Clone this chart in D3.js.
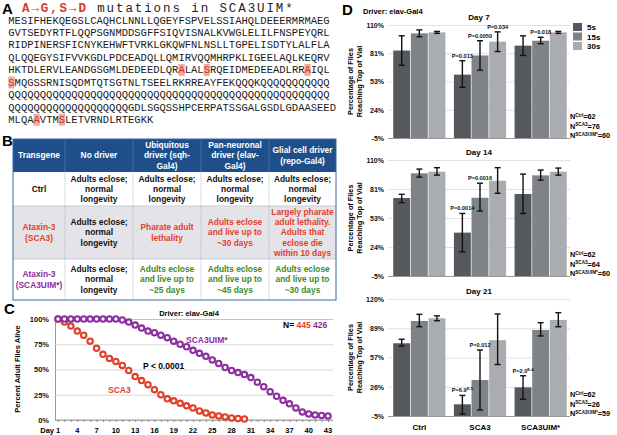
<!DOCTYPE html>
<html><head><meta charset="utf-8">
<script src="https://cdn.jsdelivr.net/npm/d3@7"></script>
<style>body{margin:0;background:#fff}svg{display:block}text{font-family:"Liberation Sans",Arial,sans-serif}</style>
</head><body><svg id="c" width="617" height="435"></svg>
<script>
// ---------- Panel A data ----------
const seqLines = [
 "MESIFHEKQEGSLCAQHCLNNLLQGEYFSPVELSSIAHQLDEEERMRMAEG",
 "GVTSEDYRTFLQQPSGNMDDSGFFSIQVISNALKVWGLELILFNSPEYQRL",
 "RIDPINERSFICNYKEHWFTVRKLGKQWFNLNSLLTGPELISDTYLALFLA",
 "QLQQEGYSIFVVKGDLPDCEADQLLQMIRVQQMHRPKLIGEELAQLKEQRV",
 "HKTDLERVLEANDGSGMLDEDEEDLQRALALSRQEIDMEDEEADLRRAIQL",
 "SMQGSSRNISQDMTQTSGTNLTSEELRKRREAYFEKQQQKQQQQQQQQQQQ",
 "QQQQQQQQQQQQQQQQQQQQQQQQQQQQQQQQQQQQQQQQQQQQQQQQQQQ",
 "QQQQQQQQQQQQQQQQQQQGDLSGQSSHPCERPATSSGALGSDLGDAASEED",
 "MLQAAVTMSLETVRNDLRTEGKK"
];
const highlightLine = [4, 4, 4, 5, 8, 8];
const highlightPos  = [27, 31, 47, 0, 4, 8];

// ---------- Panel B data ----------
const tableHeaders = [["Transgene"],["No driver"],["Ubiquitous","driver (sqh-","Gal4)"],["Pan-neuronal","driver (elav-","Gal4)"],["Glial cell driver","(repo-Gal4)"]];
const rowLabels = [["Ctrl"],["Ataxin-3","(SCA3)"],["Ataxin-3","(SCA3UIM*)"]];
const rowLabelColors = ["#111","#e2402c","#8e2c9f"];
const tableCells = [
 [["Adults eclose;","normal","longevity"],["Adults eclose;","normal","longevity"],["Adults eclose;","normal","longevity"],["Adults eclose;","normal","longevity"]],
 [["Adults eclose;","normal","longevity"],["Pharate adult","lethality"],["Adults eclose","and live up to","~30 days"],["Largely pharate","adult lethality.","Adults that","eclose die","within 10 days"]],
 [["Adults eclose;","normal","longevity"],["Adults eclose","and live up to","~25 days"],["Adults eclose","and live up to","~45 days"],["Adults eclose","and live up to","~30 days"]]
];
const cellColors = [["#111","#111","#111","#111"],["#111","#e2402c","#e2402c","#e2402c"],["#111","#3d8b2b","#3d8b2b","#3d8b2b"]];

// ---------- Panel C data ----------
const sca3Days = [1,2,3,4,5,6,7,8,9,10,11,12,13,14,15,16,17,18,19,20,21,22,23,24,25,26,27,28,29,30];
const sca3Alive = [100,97,93,88,84,78,71,65,61,58,54,49,43,39,35,30,25,21,19,16.5,14,12,9,7,5,4,3,2,1.5,1];
const uimDays = [1,2,3,4,5,6,7,8,9,10,11,12,13,14,15,16,17,18,19,20,21,22,23,24,25,26,27,28,29,30,31,32,33,34,35,36,37,38,39,40,41,42,43];
const uimAlive = [100,100,100,100,100,100,100,100,100,100,99,97,94,91,88,86.5,84,81.5,78,75,72.5,69,66,63,59.5,56,52,49,47,45,42,37.5,33,28,23.5,19.5,16,12,8,6,5,4.5,4];
const survTicks = [0,25,50,75,100];
const dayTickLabels = [1,4,7,10,13,16,19,22,25,28,31,34,37,40,43];

// ---------- Panel D data ----------
const groups = ["Ctrl","SCA3","SCA3UIM*"];
const seriesNames = ["5s","15s","30s"];
const seriesColors = ["#55585d","#7f8287","#a9acb0"];
const day7Mean = [[84,101.5,102.5],[59.5,79,93],[89,94,102.5]];
const day7Low  = [[69,98,101.5],[46.6,64,83],[79,91,101.5]];
const day7High = [[99,105,103.5],[73.7,94,103],[99,97.5,103.5]];
const day14Mean = [[72.3,96.8,98.4],[38,72.6,89.5],[76.3,94.8,98.4]];
const day14Low  = [[67.7,93,95],[19,59.4,77],[57,90,95]];
const day14High = [[76,101,102.4],[57,87,102.4],[96,100,102]];
const day21Mean = [[72.7,96.5,99.4],[7.5,33.5,76],[25.6,86.9,97.6]];
const day21Low  = [[69.8,90.4,96.8],[-3,1.4,50],[12.9,80.5,90.4]];
const day21High = [[77,103.6,102],[17,65.5,104],[38,94.7,105.4]];
const ticks7 = [-5,23.75,52.5,81.25,110];
const tickLabels7 = ["-5%","24%","53%","81%","110%"];
const ticks21 = [-5,26.25,57.5,88.75,120];
const tickLabels21 = ["-5%","26%","57%","89%","120%"];
const pLabels7  = [["SCA3","5s","P=0.013",""],["SCA3","15s","P=0.0050",""],["SCA3","30s","P=0.034",""],["SCA3UIM*","15s","P=0.018",""]];
const pLabels14 = [["SCA3","5s","P=0.0014",""],["SCA3","15s","P=0.0016",""]];
const pLabels21 = [["SCA3","5s","P=6.9","E-5"],["SCA3","15s","P=0.012",""],["SCA3UIM*","5s","P=2.0","E-4"]];
const nNames = ["Ctrl","SCA3","SCA3UIM*"];
const n7 = [62,76,60], n14 = [62,64,60], n21 = [62,26,59];

const svg = d3.select("#c");
const BOLD = "bold";

// ================= Panel A =================
svg.append("text").attr("x",2).attr("y",14).attr("font-size",15).attr("font-weight",BOLD).text("A");
const hdr = svg.append("text").attr("x",22).attr("y",12).attr("font-size",12.5).attr("letter-spacing",1.9)
  .style("font-family","'Liberation Mono',monospace");
hdr.append("tspan").attr("fill","#d63a2a").attr("font-weight",BOLD).text("A\u2192G,S\u2192D");
hdr.append("tspan").attr("fill","#222").text(" mutations in SCA3UIM*");

const charX = d3.scaleLinear().domain([0,51]).range([8.3, 8.3+51*6.3]);
const lineY = d3.scaleLinear().domain([0,8]).range([23.5,123]);
svg.selectAll("rect.hl").data(highlightLine.map((l,i)=>({l,p:highlightPos[i]}))).join("rect")
  .attr("x",d=>charX(d.p)).attr("y",d=>lineY(d.l)-9.3).attr("width",6.3).attr("height",12)
  .attr("fill","#f4aaa3");
seqLines.forEach((s,li)=>{
  const t = svg.append("text").attr("x",charX(0)).attr("y",lineY(li)).attr("font-size",10.5)
    .style("font-family","'Liberation Mono',monospace").attr("fill","#1a1a1a");
  const hp = highlightPos.filter((p,i)=>highlightLine[i]===li);
  let cur = "";
  for(let i=0;i<s.length;i++){
    if(hp.includes(i)){
      if(cur) t.append("tspan").text(cur);
      cur="";
      t.append("tspan").attr("fill","#c8301f").text(s[i]);
    } else cur += s[i];
  }
  if(cur) t.append("tspan").text(cur);
});

// ================= Panel B =================
svg.append("text").attr("x",2).attr("y",146).attr("font-size",15).attr("font-weight",BOLD).text("B");
const colEdges = [13,65,133,201,269,336];
const rowEdges = [139,172,206,259,300];
svg.append("rect").attr("x",13).attr("y",rowEdges[0]).attr("width",336-13).attr("height",rowEdges[1]-rowEdges[0]).attr("fill","#1f4f8a");
svg.append("rect").attr("x",13).attr("y",rowEdges[2]).attr("width",336-13).attr("height",rowEdges[3]-rowEdges[2]).attr("fill","#e4e4e8");
[rowEdges[2],rowEdges[3]].forEach(y=>svg.append("line").attr("x1",13).attr("x2",336).attr("y1",y).attr("y2",y).attr("stroke","#b9c5d8").attr("stroke-width",0.8));
colEdges.slice(1,5).forEach(x=>svg.append("line").attr("x1",x).attr("x2",x).attr("y1",rowEdges[1]).attr("y2",rowEdges[4]).attr("stroke","#9fb0c8").attr("stroke-width",0.8).attr("stroke-dasharray","1.2,1"));
colEdges.slice(1,5).forEach(x=>svg.append("line").attr("x1",x).attr("x2",x).attr("y1",rowEdges[0]).attr("y2",rowEdges[1]).attr("stroke","#5c7fae").attr("stroke-width",0.6));
svg.append("rect").attr("x",13).attr("y",rowEdges[0]).attr("width",336-13).attr("height",rowEdges[4]-rowEdges[0]).attr("fill","none").attr("stroke","#3f68a3").attr("stroke-width",1);

function multiline(x, yc, lines, color, size){
  const lh = 10.4;
  const y0 = yc - (lines.length-1)*lh/2 + size*0.35;
  const t = svg.append("text").attr("x",x).attr("text-anchor","middle").attr("font-size",size).attr("font-weight",BOLD).attr("fill",color);
  lines.forEach((l,i)=>t.append("tspan").attr("x",x).attr("y",y0+i*lh).text(l));
}
const colC = i => (colEdges[i]+colEdges[i+1])/2;
const rowC = i => (rowEdges[i]+rowEdges[i+1])/2;
tableHeaders.forEach((h,i)=>multiline(colC(i), rowC(0), h, "#fff", 8.4));
rowLabels.forEach((r,i)=>multiline(colC(0), rowC(i+1), r, rowLabelColors[i], 8.4));
tableCells.forEach((row,ri)=>row.forEach((c,ci)=>multiline(colC(ci+1), rowC(ri+1), c, cellColors[ri][ci], 8.4)));

// ================= Panel C =================
svg.append("text").attr("x",4).attr("y",314).attr("font-size",15).attr("font-weight",BOLD).text("C");
const xC = d3.scaleLinear().domain([1,43]).range([58,328]);
const yC = d3.scaleLinear().domain([0,100]).range([420,319]);
const gC = svg.append("g");
gC.append("g").attr("transform","translate(55,0)")
  .call(d3.axisLeft(yC).tickValues(survTicks).tickSize(-278).tickFormat(d=>d+"%"))
  .call(g=>{g.select(".domain").attr("stroke","#999");
    g.selectAll(".tick line").attr("stroke","#cfcfcf").attr("stroke-width",0.8);
    g.selectAll(".tick text").attr("x",-6).attr("font-size",7.5).attr("font-weight",BOLD).attr("fill","#111").style("font-family","'Liberation Sans',Arial");});
gC.append("g").attr("transform","translate(0,420)")
  .call(d3.axisBottom(xC).tickValues(d3.range(1,44)).tickSize(2).tickFormat(""))
  .call(g=>{g.select(".domain").attr("stroke","#999").attr("d","M55,0H333");
    g.selectAll(".tick line").attr("stroke","#888");});
gC.append("g").selectAll("text").data(dayTickLabels).join("text")
  .attr("x",d=>xC(d)).attr("y",433).attr("text-anchor","middle").attr("font-size",7.5).attr("font-weight",BOLD).text(d=>d);
gC.append("text").attr("x",xC(1)-4).attr("y",433).attr("text-anchor","end").attr("font-size",7.5).attr("font-weight",BOLD).text("Day");
gC.append("text").attr("transform","translate(20,369) rotate(-90)").attr("text-anchor","middle").attr("font-size",7.5).attr("font-weight",BOLD).text("Percent Adult Flies Alive");
gC.selectAll("circle.r").data(sca3Days.map((d,i)=>[d,sca3Alive[i]])).join("circle")
  .attr("cx",d=>xC(d[0])).attr("cy",d=>yC(d[1])).attr("r",2.7).attr("fill","#fff").attr("stroke","#e0402a").attr("stroke-width",2.1);
gC.selectAll("circle.p").data(uimDays.map((d,i)=>[d,uimAlive[i]])).join("circle")
  .attr("cx",d=>xC(d[0])).attr("cy",d=>yC(d[1])).attr("r",2.7).attr("fill","#fff").attr("stroke","#8c2e9f").attr("stroke-width",2.1);
gC.append("text").attr("x",189).attr("y",316).attr("text-anchor","middle").attr("font-size",7.5).attr("font-weight",BOLD).text("Driver: elav-Gal4");
const nt = gC.append("text").attr("x",283).attr("y",328).attr("font-size",8.5).attr("font-weight",BOLD);
nt.append("tspan").text("N= ");
nt.append("tspan").attr("fill","#e0402a").text("445 ");
nt.append("tspan").attr("fill","#8c2e9f").text("426");
gC.append("text").attr("x",186).attr("y",343).attr("font-size",8.5).attr("font-weight",BOLD).attr("fill","#8c2e9f").text("SCA3UIM*");
gC.append("text").attr("x",143).attr("y",369).attr("font-size",8.5).attr("font-weight",BOLD).text("P < 0.0001");
gC.append("text").attr("x",108).attr("y",393).attr("font-size",8.5).attr("font-weight",BOLD).attr("fill","#e0402a").text("SCA3");

// ================= Panel D =================
svg.append("text").attr("x",342).attr("y",15).attr("font-size",15).attr("font-weight",BOLD).text("D");
svg.append("text").attr("x",363).attr("y",14).attr("font-size",7.5).attr("font-weight",BOLD).text("Driver: elav-Gal4");
const xG = d3.scaleBand().domain(groups).range([389,571]).paddingInner(0.14).paddingOuter(0.07);
const xS = d3.scaleBand().domain(seriesNames).range([0,xG.bandwidth()]).paddingInner(0.04);

const panels = [
 {title:"Day 7", mean:day7Mean, lo:day7Low, hi:day7High, dom:[-5,110], range:[138,25], ticks:ticks7, labels:tickLabels7, p:pLabels7, n:n7, legend:true, xlab:false},
 {title:"Day 14", mean:day14Mean, lo:day14Low, hi:day14High, dom:[-5,110], range:[276,160], ticks:ticks7, labels:tickLabels7, p:pLabels14, n:n14, legend:false, xlab:false},
 {title:"Day 21", mean:day21Mean, lo:day21Low, hi:day21High, dom:[-5,120], range:[416,299], ticks:ticks21, labels:tickLabels21, p:pLabels21, n:n21, legend:false, xlab:true}
];
panels.forEach(P=>{
  const y = d3.scaleLinear().domain(P.dom).range(P.range);
  const g = svg.append("g");
  g.append("g").attr("transform","translate(388,0)")
    .call(d3.axisLeft(y).tickValues(P.ticks).tickSize(-182).tickFormat((d,i)=>P.labels[i]))
    .call(a=>{a.select(".domain").remove();
      a.selectAll(".tick line").attr("stroke",(d,i)=>i===0?"#9a9a9a":"#d9d9d9").attr("stroke-width",(d,i)=>i===0?1.2:0.8);
      a.selectAll(".tick text").attr("x",-4).attr("font-size",7).attr("font-weight",BOLD).attr("fill","#111").style("font-family","'Liberation Sans',Arial");});
  const yc = (P.range[0]+P.range[1])/2;
  g.append("text").attr("transform",`translate(353,${yc}) rotate(-90)`).attr("text-anchor","middle").attr("font-size",7.3).attr("font-weight",BOLD).text("Percentage of Flies");
  g.append("text").attr("transform",`translate(362,${yc}) rotate(-90)`).attr("text-anchor","middle").attr("font-size",7.3).attr("font-weight",BOLD).text("Reaching Top of Vial");
  g.append("text").attr("x",479).attr("y",P.range[1]-5).attr("text-anchor","middle").attr("font-size",8).attr("font-weight",BOLD).text(P.title);
  const recs = [];
  groups.forEach((gr,gi)=>seriesNames.forEach((s,si)=>recs.push({gr,s,si,m:P.mean[gi][si],lo:P.lo[gi][si],hi:P.hi[gi][si]})));
  const bx = d=>xG(d.gr)+xS(d.s);
  g.selectAll("rect.bar").data(recs).join("rect")
    .attr("x",bx).attr("width",xS.bandwidth()).attr("y",d=>y(d.m)).attr("height",d=>y(P.dom[0])-y(d.m))
    .attr("fill",d=>seriesColors[d.si]);
  const eb = g.selectAll("g.eb").data(recs).join("g").attr("stroke","#111").attr("stroke-width",1.4);
  eb.append("line").attr("x1",d=>bx(d)+xS.bandwidth()/2).attr("x2",d=>bx(d)+xS.bandwidth()/2).attr("y1",d=>y(d.lo)).attr("y2",d=>y(d.hi));
  eb.append("line").attr("x1",d=>bx(d)+xS.bandwidth()/2-3).attr("x2",d=>bx(d)+xS.bandwidth()/2+3).attr("y1",d=>y(d.lo)).attr("y2",d=>y(d.lo));
  eb.append("line").attr("x1",d=>bx(d)+xS.bandwidth()/2-3).attr("x2",d=>bx(d)+xS.bandwidth()/2+3).attr("y1",d=>y(d.hi)).attr("y2",d=>y(d.hi));
  P.p.forEach(pl=>{
    const gi = groups.indexOf(pl[0]), si = seriesNames.indexOf(pl[1]);
    const t = g.append("text").attr("x",xG(pl[0])+xS(pl[1])+xS.bandwidth()/2).attr("y",y(P.hi[gi][si])-3)
      .attr("text-anchor","middle").attr("font-size",5.6).attr("font-weight",BOLD).attr("fill","#111");
    t.append("tspan").text(pl[2]);
    if(pl[3]) t.append("tspan").attr("font-size",4).attr("dy",-2).text(pl[3]);
  });
  P.n.forEach((nv,i)=>{
    const t = g.append("text").attr("x",570).attr("y",P.range[0]-19+i*9.6).attr("font-size",7.3).attr("font-weight",BOLD);
    t.append("tspan").text("N");
    t.append("tspan").attr("font-size",4.6).attr("dy",-2.5).text(nNames[i]);
    t.append("tspan").attr("dy",2.5).text("="+nv);
  });
  if(P.legend){
    seriesNames.forEach((s,i)=>{
      g.append("rect").attr("x",573).attr("y",23+i*9.5).attr("width",9).attr("height",8).attr("fill",seriesColors[i]);
      g.append("text").attr("x",587).attr("y",30+i*9.5).attr("font-size",8).attr("font-weight",BOLD).text(s);
    });
  }
  if(P.xlab){
    g.selectAll("text.xl").data(groups).join("text").attr("x",d=>xG(d)+xG.bandwidth()/2).attr("y",430)
      .attr("text-anchor","middle").attr("font-size",8).attr("font-weight",BOLD).text(d=>d);
  }
});
</script></body></html>
